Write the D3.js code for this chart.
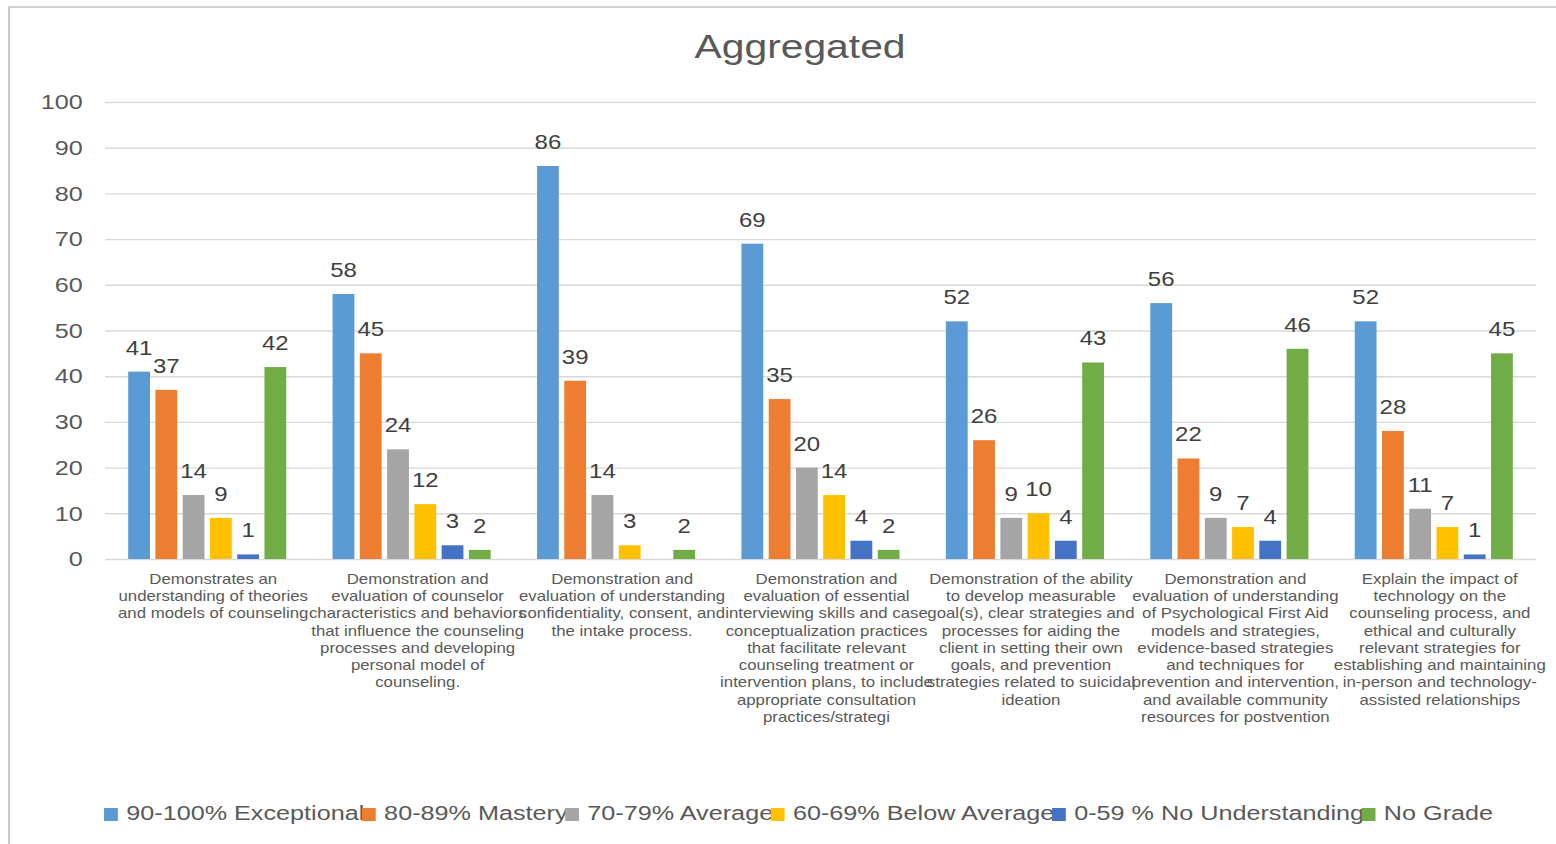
<!DOCTYPE html>
<html>
<head>
<meta charset="utf-8">
<script src="https://cdn.jsdelivr.net/npm/d3@7"></script>
<style>
    html, body { margin: 0; padding: 0; background: #fff; overflow: hidden; }
    svg text { font-family: "Liberation Sans", Arial, Helvetica, sans-serif; }
</style>
</head>
<body>
<div id="chart"></div>
<script>
// category labels, already wrapped the way the original shows them
const categories = [
    ["Demonstrates an", "understanding of theories", "and models of counseling"],
    ["Demonstration and", "evaluation of counselor", "characteristics and behaviors", "that influence the counseling", "processes and developing", "personal model of", "counseling."],
    ["Demonstration and", "evaluation of understanding", "confidentiality, consent, and", "the intake process."],
    ["Demonstration and", "evaluation of essential", "interviewing skills and case", "conceptualization practices", "that facilitate relevant", "counseling treatment or", "intervention plans, to include", "appropriate consultation", "practices/strategi"],
    ["Demonstration of the ability", "to develop measurable", "goal(s), clear strategies and", "processes for aiding the", "client in setting their own", "goals, and prevention", "strategies related to suicidal", "ideation"],
    ["Demonstration and", "evaluation of understanding", "of Psychological First Aid", "models and strategies,", "evidence-based strategies", "and techniques for", "prevention and intervention,", "and available community", "resources for postvention"],
    ["Explain the impact of", "technology on the", "counseling process, and", "ethical and culturally", "relevant strategies for", "establishing and maintaining", "in-person and technology-", "assisted relationships"]
]

const seriesNames = ["90-100% Exceptional", "80-89% Mastery", "70-79% Average", "60-69% Below Average", "0-59 % No Understanding", "No Grade"]
const seriesColors = ["#5B9BD5", "#ED7D31", "#A5A5A5", "#FFC000", "#4472C4", "#70AD47"]

const exceptional     = [41, 58, 86, 69, 52, 56, 52]
const mastery         = [37, 45, 39, 35, 26, 22, 28]
const average         = [14, 24, 14, 20, 9, 9, 11]
const belowAverage    = [9, 12, 3, 14, 10, 7, 7]
const noUnderstanding = [1, 3, null, 4, 4, 4, 1]
const noGrade         = [42, 2, 2, 2, 43, 46, 45]

const yTicks = [0, 10, 20, 30, 40, 50, 60, 70, 80, 90, 100]

const seriesValues = [exceptional, mastery, average, belowAverage, noUnderstanding, noGrade]

// the reference is stretched sideways, so draw in a narrower space and stretch
const W = 1556, H = 844, SX = 1.2
const VW = W / SX
const margin = { left: 87.5, right: VW - 1280, top: 102, bottom: H - 559 }

const svg = d3.select("#chart").append("svg")
    .attr("width", W)
    .attr("height", H)
    .attr("viewBox", `0 0 ${VW} ${H}`)
    .attr("preserveAspectRatio", "none")

// outer frame (only left and top edges visible)
svg.append("rect")
    .attr("x", 7.5).attr("y", 7)
    .attr("width", VW + 20).attr("height", H + 20)
    .attr("fill", "none")
    .attr("stroke", "#c4c4c4")
    .attr("stroke-width", 1.5)

// title
svg.append("text")
    .attr("x", 666.7).attr("y", 58)
    .attr("text-anchor", "middle")
    .attr("font-size", 34)
    .attr("fill", "#595959")
    .text("Aggregated")

/** scales */
const x0 = d3.scaleBand()
    .domain(d3.range(categories.length))
    .range([margin.left, VW - margin.right])
    .padding(0)

const x1 = d3.scaleBand()
    .domain(d3.range(seriesNames.length))
    .range([0, x0.bandwidth()])
    .paddingInner(0.2)
    .paddingOuter(0.85)

const y = d3.scaleLinear()
    .domain([0, 100])
    .range([H - margin.bottom, margin.top])

// y axis with grid
const yAxis = svg.append("g")
    .attr("transform", `translate(${margin.left},0)`)
    .call(d3.axisLeft(y)
        .tickValues(yTicks)
        .tickSize(-(VW - margin.left - margin.right))
        .tickPadding(18.5))
yAxis.select(".domain").remove()
yAxis.selectAll(".tick line")
    .attr("stroke", "#d9d9d9")
    .attr("stroke-width", 1.4)
yAxis.selectAll(".tick text")
    .attr("font-size", 21)
    .attr("fill", "#595959")
    .style("font-family", '"Liberation Sans", Arial, sans-serif')

// bars
const groups = svg.append("g")
    .selectAll("g")
    .data(categories)
    .join("g")
    .attr("transform", (_d, i) => `translate(${x0(i)},0)`)

const cells = groups.selectAll("g")
    .data((_d, i) => seriesValues.map((vals, s) => ({ s, v: vals[i] })).filter(d => d.v != null))
    .join("g")

cells.append("rect")
    .attr("x", d => x1(d.s))
    .attr("y", d => y(d.v))
    .attr("width", x1.bandwidth())
    .attr("height", d => y(0) - y(d.v))
    .attr("fill", d => seriesColors[d.s])

cells.append("text")
    .attr("x", d => x1(d.s) + x1.bandwidth() / 2)
    .attr("y", d => y(d.v) - 17)
    .attr("text-anchor", "middle")
    .attr("font-size", 20)
    .attr("fill", "#404040")
    .text(d => d.v)

// category labels
const catLabels = svg.append("g")
    .selectAll("text")
    .data(categories)
    .join("text")
    .attr("x", (_d, i) => x0(i) + x0.bandwidth() / 2 + 5)
    .attr("y", 584)
    .attr("text-anchor", "middle")
    .attr("font-size", 14)
    .attr("fill", "#595959")

catLabels.selectAll("tspan")
    .data(d => d)
    .join("tspan")
    .attr("x", function () { return this.parentNode.getAttribute("x") })
    .attr("dy", (_d, i) => i === 0 ? 0 : 17.25)
    .text(d => d)

// legend: texts first so the next swatch sits over the end of the text
const legend = svg.append("g")
const legendY = 820
let lx = 86.7
const swatchX = []
seriesNames.forEach((name) => {
    swatchX.push(lx)
    const t = legend.append("text")
        .attr("x", lx + 18.5)
        .attr("y", legendY)
        .attr("font-size", 21)
        .attr("fill", "#595959")
        .text(name)
    lx = lx + 18.5 + t.node().getComputedTextLength() - 2
})
seriesNames.forEach((_name, i) => {
    legend.append("rect")
        .attr("x", swatchX[i])
        .attr("y", legendY - 12)
        .attr("width", 11.5)
        .attr("height", 13)
        .attr("fill", seriesColors[i])
})
</script>
</body>
</html>
